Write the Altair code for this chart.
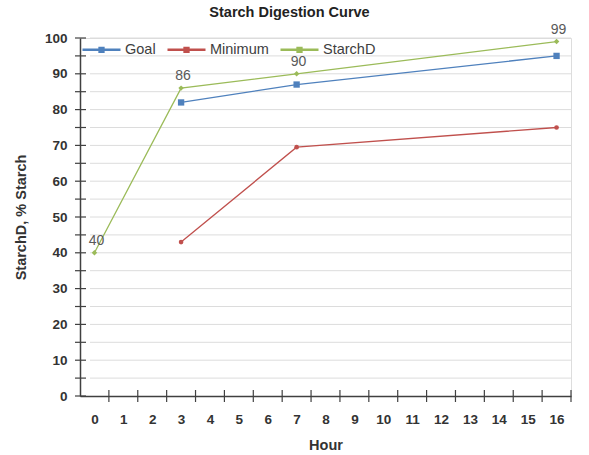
import altair as alt
import pandas as pd

# Hours at which each series was measured, and the percent starch digested
goal_hours = [3, 7, 16]
goal_values = [82, 87, 95]
minimum_hours = [3, 7, 16]
minimum_values = [43, 69.5, 75]
starchd_hours = [0, 3, 7, 16]
starchd_values = [40, 86, 90, 99]

series_names = ["Goal", "Minimum", "StarchD"]
series_colors = ["#4F81BD", "#C0504D", "#9BBB59"]
series_shapes = ["square", "circle", "diamond"]
series_sizes = [40, 22, 30]

hour_labels = list(range(0, 17))
y_label_values = list(range(0, 101, 10))
y_tick_values = list(range(0, 101, 5))
grid_values = list(range(5, 101, 5))
x_tick_values = [h + 0.5 for h in hour_labels]

rows = []
for name, hours, values in [
    ("Goal", goal_hours, goal_values),
    ("Minimum", minimum_hours, minimum_values),
    ("StarchD", starchd_hours, starchd_values),
]:
    for h, v in zip(hours, values):
        rows.append({"Hour": h, "Value": v, "Series": name})
df = pd.DataFrame(rows)

PLOT_W = 491
PLOT_H = 358
FONT = "Liberation Sans"
AXIS_COLOR = "#404040"
TEXT_COLOR = "#333333"

x_scale = alt.Scale(domain=[hour_labels[0] - 0.5, hour_labels[-1] + 0.5], nice=False, zero=False)
y_scale = alt.Scale(domain=[0, 100], nice=False)
color_scale = alt.Scale(domain=series_names, range=series_colors)

x_axis = alt.Axis(
    title="Hour",
    values=hour_labels,
    format="d",
    labelOverlap=False,
    labelFlush=False,
    labelBound=False,
    ticks=False,
    domainColor=AXIS_COLOR,
    domainWidth=1.5,
    labelFont=FONT,
    labelFontSize=13.5,
    labelFontWeight="bold",
    labelColor=TEXT_COLOR,
    labelPadding=16,
    titleFont=FONT,
    titleFontSize=14.5,
    titleFontWeight="bold",
    titleColor=TEXT_COLOR,
    titlePadding=13,
    grid=False,
)

y_axis = alt.Axis(
    title="StarchD, % Starch",
    values=y_label_values,
    format="d",
    labelOverlap=False,
    labelBound=False,
    ticks=False,
    domainColor=AXIS_COLOR,
    domainWidth=1.5,
    labelFont=FONT,
    labelFontSize=13.5,
    labelFontWeight="bold",
    labelColor=TEXT_COLOR,
    labelPadding=13,
    titleFont=FONT,
    titleFontSize=14.5,
    titleFontWeight="bold",
    titleColor=TEXT_COLOR,
    titlePadding=16,
    grid=False,
)

color = alt.Color(
    "Series:N",
    scale=color_scale,
    legend=alt.Legend(
        title=None,
        orient="none",
        direction="horizontal",
        legendX=1,
        legendY=-9,
        symbolType="M-1,0H1M-0.1,-0.1H0.1V0.1H-0.1Z",
        symbolSize=1444,
        symbolStrokeWidth=2.5,
        labelFont=FONT,
        labelFontSize=14.5,
        labelColor="#404040",
        labelOffset=3,
        columnPadding=6,
        padding=0,
    ),
)

# Light horizontal gridlines every 5 units, starting just clear of the axis
grid = (
    alt.Chart(pd.DataFrame({"Value": grid_values}))
    .mark_rule(color="#DCDCDC", strokeWidth=1)
    .encode(
        y=alt.Y("Value:Q", scale=y_scale, axis=y_axis),
        x=alt.value(10),
        x2=alt.value(PLOT_W),
    )
)

# Tick marks that cross the axis lines
y_ticks = (
    alt.Chart(pd.DataFrame({"Value": y_tick_values}))
    .mark_rule(color=AXIS_COLOR, strokeWidth=1.2)
    .encode(
        y=alt.Y("Value:Q", scale=y_scale, axis=y_axis),
        x=alt.value(-5),
        x2=alt.value(6),
    )
)

x_ticks = (
    alt.Chart(pd.DataFrame({"Hour": x_tick_values}))
    .mark_rule(color=AXIS_COLOR, strokeWidth=1.2)
    .encode(
        x=alt.X("Hour:Q", scale=x_scale, axis=x_axis),
        y=alt.value(PLOT_H - 6),
        y2=alt.value(PLOT_H + 6),
    )
)

base = alt.Chart(df)

lines = base.mark_line(strokeWidth=1.3).encode(
    x=alt.X("Hour:Q", scale=x_scale, axis=x_axis),
    y=alt.Y("Value:Q", scale=y_scale, axis=y_axis),
    color=color,
)

# One marker layer per series so each keeps its own marker shape
point_layers = []
for name, shape, size in zip(series_names, series_shapes, series_sizes):
    point_layers.append(
        base.transform_filter(alt.datum.Series == name)
        .mark_point(filled=True, shape=shape, size=size, opacity=1)
        .encode(
            x=alt.X("Hour:Q", scale=x_scale, axis=x_axis),
            y=alt.Y("Value:Q", scale=y_scale, axis=y_axis),
            color=alt.Color("Series:N", scale=color_scale, legend=None),
        )
    )

labels = base.transform_filter(alt.datum.Series == "StarchD").mark_text(
    dy=-12, dx=2, font=FONT, fontSize=14, color="#595959"
).encode(
    x=alt.X("Hour:Q", scale=x_scale, axis=x_axis),
    y=alt.Y("Value:Q", scale=y_scale, axis=y_axis),
    text=alt.Text("Value:Q", format="d"),
)

chart = (
    alt.layer(grid, y_ticks, x_ticks, lines, *point_layers, labels)
    .properties(
        width=PLOT_W,
        height=PLOT_H,
        title=alt.TitleParams(
            "Starch Digestion Curve",
            font=FONT,
            fontSize=14.5,
            fontWeight="bold",
            color="#222222",
            anchor="middle",
            dx=-36,
            offset=2,
        ),
        autosize=alt.AutoSizeParams(type="none"),
        padding={"left": 80, "top": 38, "right": 18, "bottom": 59},
    )
    .configure_view(stroke=None)
    .configure(background="white")
)

chart.save("out.html", embed_options={"renderer": "svg", "actions": False})
